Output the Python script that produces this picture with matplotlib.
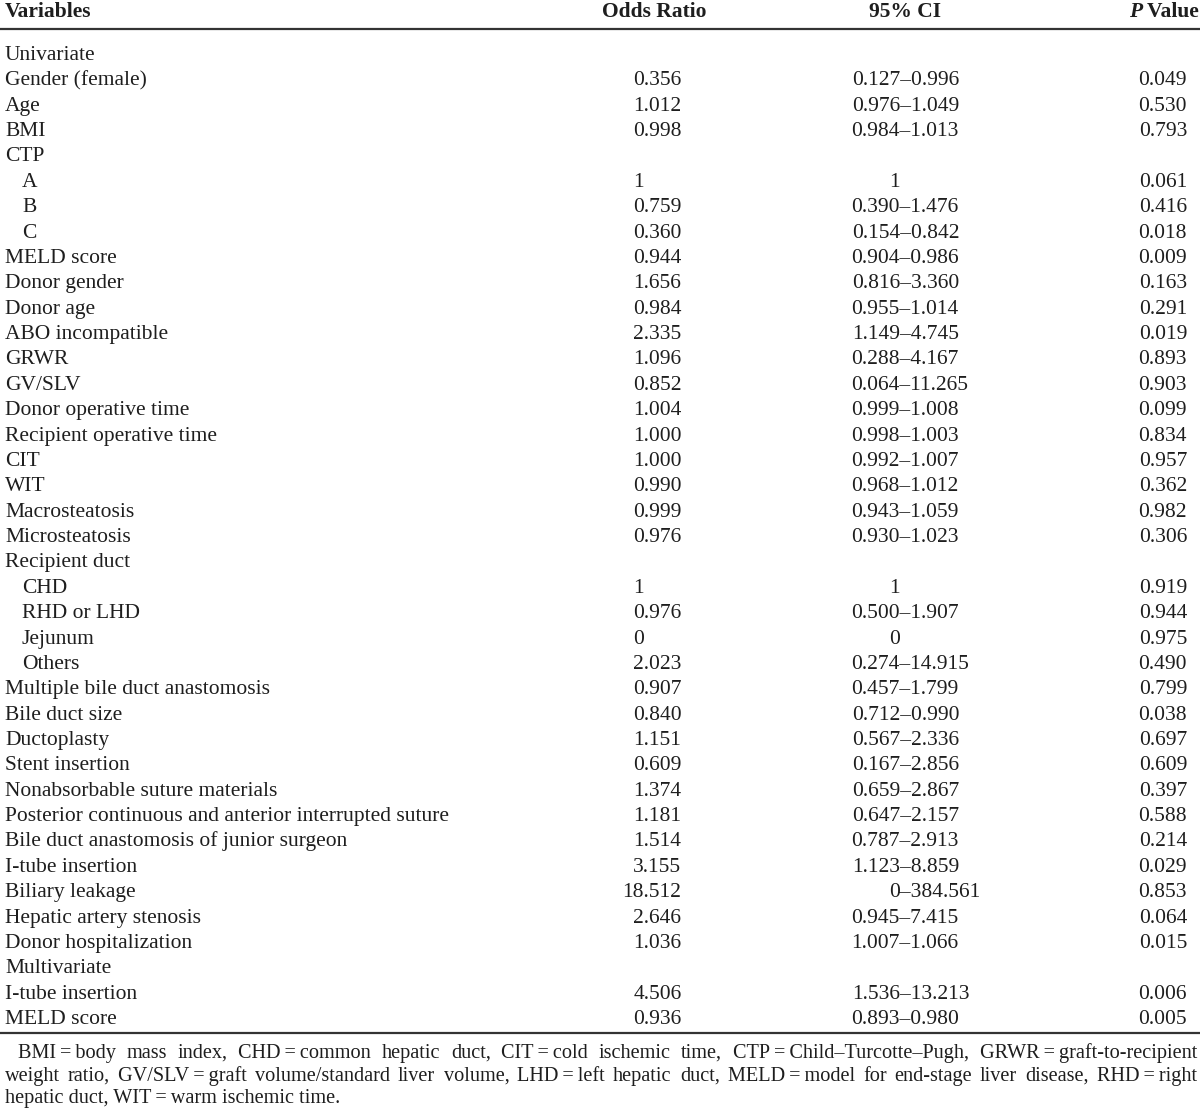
import matplotlib.pyplot as plt

# Table content
labels = [
    "Univariate", "Gender (female)", "Age", "BMI", "CTP", "A", "B", "C",
    "MELD score", "Donor gender", "Donor age", "ABO incompatible", "GRWR",
    "GV/SLV", "Donor operative time", "Recipient operative time", "CIT", "WIT",
    "Macrosteatosis", "Microsteatosis", "Recipient duct", "CHD", "RHD or LHD",
    "Jejunum", "Others", "Multiple bile duct anastomosis", "Bile duct size",
    "Ductoplasty", "Stent insertion", "Nonabsorbable suture materials",
    "Posterior continuous and anterior interrupted suture",
    "Bile duct anastomosis of junior surgeon", "I-tube insertion",
    "Biliary leakage", "Hepatic artery stenosis", "Donor hospitalization",
    "Multivariate", "I-tube insertion", "MELD score",
]
indented = ["A", "B", "C", "CHD", "RHD or LHD", "Jejunum", "Others"]
odds = [
    "", "0.356", "1.012", "0.998", "", "1", "0.759", "0.360", "0.944", "1.656",
    "0.984", "2.335", "1.096", "0.852", "1.004", "1.000", "1.000", "0.990",
    "0.999", "0.976", "", "1", "0.976", "0", "2.023", "0.907", "0.840", "1.151",
    "0.609", "1.374", "1.181", "1.514", "3.155", "18.512", "2.646", "1.036",
    "", "4.506", "0.936",
]
ci = [
    "", "0.127–0.996", "0.976–1.049", "0.984–1.013", "", "1", "0.390–1.476",
    "0.154–0.842", "0.904–0.986", "0.816–3.360", "0.955–1.014", "1.149–4.745",
    "0.288–4.167", "0.064–11.265", "0.999–1.008", "0.998–1.003", "0.992–1.007",
    "0.968–1.012", "0.943–1.059", "0.930–1.023", "", "1", "0.500–1.907", "0",
    "0.274–14.915", "0.457–1.799", "0.712–0.990", "0.567–2.336", "0.167–2.856",
    "0.659–2.867", "0.647–2.157", "0.787–2.913", "1.123–8.859", "0–384.561",
    "0.945–7.415", "1.007–1.066", "", "1.536–13.213", "0.893–0.980",
]
pvals = [
    "", "0.049", "0.530", "0.793", "", "0.061", "0.416", "0.018", "0.009",
    "0.163", "0.291", "0.019", "0.893", "0.903", "0.099", "0.834", "0.957",
    "0.362", "0.982", "0.306", "", "0.919", "0.944", "0.975", "0.490", "0.799",
    "0.038", "0.697", "0.609", "0.397", "0.588", "0.214", "0.029", "0.853",
    "0.064", "0.015", "", "0.006", "0.005",
]
footnote = [
    "BMI\u2009=\u2009body mass index, CHD\u2009=\u2009common hepatic duct, "
    "CIT\u2009=\u2009cold ischemic time, CTP\u2009=\u2009Child–Turcotte–Pugh, "
    "GRWR\u2009=\u2009graft-to-recipient",
    "weight ratio, GV/SLV\u2009=\u2009graft volume/standard liver volume, "
    "LHD\u2009=\u2009left hepatic duct, MELD\u2009=\u2009model for end-stage "
    "liver disease, RHD\u2009=\u2009right",
    "hepatic duct, WIT\u2009=\u2009warm ischemic time.",
]

W, H = 1200, 1108
fam = ["Liberation Serif", "DejaVu Serif"]
col = "#1e1e1e"
fs = 15.5

fig = plt.figure(figsize=(W / 100, H / 100), dpi=100)
ax = fig.add_axes([0, 0, 1, 1])
ax.set_xlim(0, W)
ax.set_ylim(H, 0)
ax.axis("off")
fig.canvas.draw()
r = fig.canvas.get_renderer()


def text_width(s, size=fs, **kw):
    t = ax.text(0, 0, s, family=fam, fontsize=size, **kw)
    w = t.get_window_extent(r).width
    t.remove()
    return w


# header
hy = 17
ax.text(5, hy, "Variables", family=fam, fontsize=fs, weight="bold", color=col)
ax.text(654, hy, "Odds Ratio", family=fam, fontsize=fs, weight="bold",
        color=col, ha="center")
ax.text(905, hy, "95% CI", family=fam, fontsize=fs, weight="bold",
        color=col, ha="center")
vw = text_width(" Value", weight="bold")
ax.text(1199, hy, " Value", family=fam, fontsize=fs, weight="bold",
        color=col, ha="right")
ax.text(1199 - vw, hy, "P", family=fam, fontsize=fs, weight="bold",
        style="italic", color=col, ha="right")
ax.plot([0, W], [28.5, 28.5], color="#333333", lw=1.6, solid_capstyle="butt")

# body rows
y0, step = 60, 25.37
x_dot, x_dash, x_p = 644, 900, 1187
for i, lab in enumerate(labels):
    y = y0 + i * step
    x = 22 if (lab in indented and i not in (0, 4, 20, 36)) else 5
    ax.text(x, y, lab, family=fam, fontsize=fs, color=col)
    o = odds[i]
    if o:
        # decimal-point alignment
        lead = o.split(".")[0]
        ax.text(x_dot - text_width(lead), y, o, family=fam, fontsize=fs,
                color=col)
    c = ci[i]
    if c:
        # en-dash alignment
        lead = c.split("–")[0]
        ax.text(x_dash - text_width(lead), y, c, family=fam, fontsize=fs,
                color=col)
    if pvals[i]:
        ax.text(x_p, y, pvals[i], family=fam, fontsize=fs, color=col,
                ha="right")

ax.plot([0, W], [1033, 1033], color="#333333", lw=1.6, solid_capstyle="butt")

# footnote, justified
ffs = 14.6
fy = [1058, 1081, 1103]
for j, line in enumerate(footnote):
    x_start = 18 if j == 0 else 5
    if j == len(footnote) - 1:
        ax.text(x_start, fy[j], line, family=fam, fontsize=ffs, color=col,
                va="baseline")
        continue
    words = line.split(" ")
    widths = [text_width(w_, size=ffs) for w_ in words]
    gap = (1197 - x_start - sum(widths)) / (len(words) - 1)
    xx = x_start
    for w_, wd in zip(words, widths):
        ax.text(round(xx), fy[j], w_, family=fam, fontsize=ffs, color=col,
                va="baseline")
        xx += wd + gap

fig.savefig("out.png", dpi=100)
